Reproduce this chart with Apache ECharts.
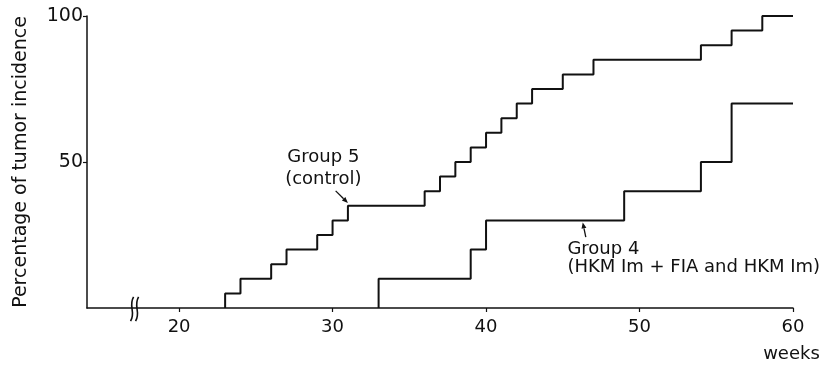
<!DOCTYPE html>
<html><head><meta charset="utf-8">
<script src="https://cdn.jsdelivr.net/npm/echarts@6/dist/echarts.min.js"></script>
<style>html,body{margin:0;padding:0;background:#fff}#c{width:829px;height:367px}</style>
</head><body><div id="c"></div>
<script>
// ---- data ----
const xTickValues = [20, 30, 40, 50, 60];
const yTickValues = [50, 100];
const group5Weeks = [23, 23, 24, 26, 27, 29, 30, 31, 36, 37, 38, 39, 40, 41, 42, 43, 45, 47, 54, 56, 58, 60];
const group5Pct   = [0, 5, 10, 15, 20, 25, 30, 35, 40, 45, 50, 55, 60, 65, 70, 75, 80, 85, 90, 95, 100, 100];
const group4Weeks = [33, 33, 39, 40, 49, 54, 56, 60];
const group4Pct   = [0, 10, 20, 30, 40, 50, 70, 70];
const yAxisTitle = 'Percentage of tumor incidence';
const xAxisUnit = 'weeks';
const group5Label = ['Group 5', '(control)'];
const group4Label = ['Group 4', '(HKM Im + FIA and HKM Im)'];

const FONT = '"DejaVu Sans", sans-serif';
const INK = '#111';

const chart = echarts.init(document.getElementById('c'), null, {renderer: 'canvas'});
const zip = (a, b) => a.map((v, i) => [v, b[i]]);

chart.setOption({
  animation: false,
  backgroundColor: '#fff',
  grid: {left: 87, right: 36, top: 16, bottom: 59},
  xAxis: {
    type: 'value', min: 14, max: 60,
    axisLine: {show: true, lineStyle: {color: INK, width: 1.5}},
    axisTick: {show: true, customValues: xTickValues, length: 4, lineStyle: {color: INK, width: 1.2}},
    axisLabel: {customValues: xTickValues, color: INK, fontSize: 18, fontFamily: FONT, margin: 10},
    splitLine: {show: false}
  },
  yAxis: {
    type: 'value', min: 0, max: 100,
    axisLine: {show: true, lineStyle: {color: INK, width: 1.5}},
    axisTick: {show: true, customValues: yTickValues, length: 4, lineStyle: {color: INK, width: 1.2}},
    axisLabel: {customValues: yTickValues, color: INK, fontSize: 19, fontFamily: FONT, margin: 4},
    splitLine: {show: false},
    name: yAxisTitle, nameLocation: 'middle', nameGap: 56, nameRotate: 90,
    nameTextStyle: {color: INK, fontSize: 19, fontFamily: FONT}
  },
  series: [
    {type: 'line', step: 'end', showSymbol: false, data: zip(group5Weeks, group5Pct),
     lineStyle: {color: INK, width: 2}},
    {type: 'line', step: 'end', showSymbol: false, data: zip(group4Weeks, group4Pct),
     lineStyle: {color: INK, width: 2}}
  ]
});

const px = (x, y) => chart.convertToPixel({gridIndex: 0}, [x, y]);

function arrow(from, to) {
  const a = px(from[0], from[1]), b = px(to[0], to[1]);
  const dx = b[0] - a[0], dy = b[1] - a[1];
  const L = Math.hypot(dx, dy), ux = dx / L, uy = dy / L;
  const h = 6, w = 2.5;
  const base = [b[0] - ux * h, b[1] - uy * h];
  return [
    {type: 'line', shape: {x1: a[0], y1: a[1], x2: base[0], y2: base[1]}, style: {stroke: INK, lineWidth: 1.3}},
    {type: 'polygon', shape: {points: [b, [base[0] - uy * w, base[1] + ux * w], [base[0] + uy * w, base[1] - ux * w]]},
     style: {fill: INK}}
  ];
}
function label(x, y, text, align) {
  const p = px(x, y);
  return {type: 'text', x: p[0], y: p[1],
    style: {text: text, fill: INK, font: '18px ' + FONT, align: align, verticalAlign: 'middle'}};
}
function breakMark(x, y1, y2, off) {
  const a = px(x, y1), b = px(x, y2);
  const cx = a[0] + off;
  return {type: 'bezierCurve', shape: {x1: cx + 1.5, y1: a[1], cpx1: cx - 4, cpy1: a[1] + (b[1] - a[1]) * 0.4,
    cpx2: cx + 4, cpy2: a[1] + (b[1] - a[1]) * 0.6, x2: cx - 1.5, y2: b[1]},
    style: {stroke: INK, lineWidth: 1.6, fill: null}};
}

const els = [];
els.push(label(29.4, 51.7, group5Label[0], 'center'));
els.push(label(29.4, 44.2, group5Label[1], 'center'));
els.push(...arrow([30.2, 40.1], [31.0, 36.0]));
els.push(label(45.3, 20.2, group4Label[0], 'left'));
els.push(label(45.3, 13.8, group4Label[1], 'left'));
els.push(...arrow([46.5, 24.3], [46.3, 29.3]));
els.push(breakMark(17.1, 3.8, -4.5, -2.5));
els.push(breakMark(17.1, 3.8, -4.5, 2.5));
els.push(label(59.9, -15.8, xAxisUnit, 'center'));
chart.setOption({graphic: {elements: els}});
</script></body></html>
